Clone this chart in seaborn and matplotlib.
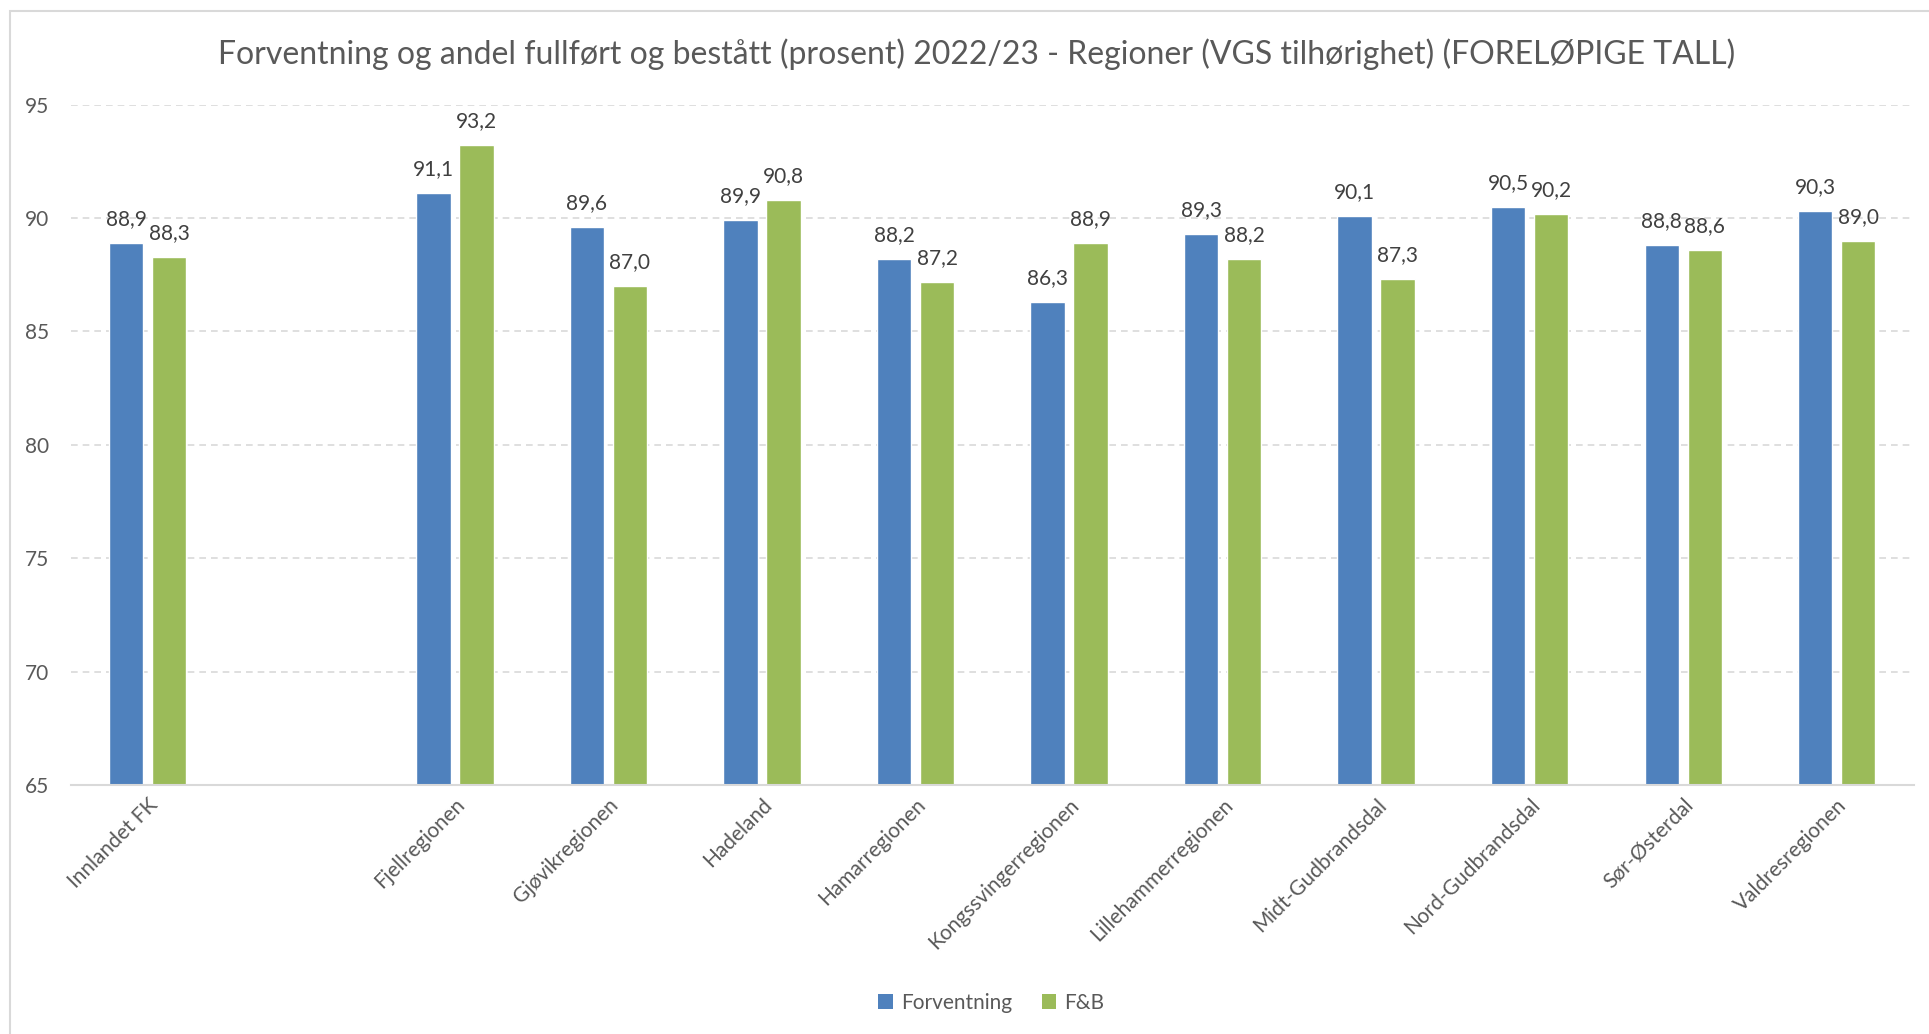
import matplotlib
matplotlib.use("Agg")
import matplotlib.pyplot as plt
import seaborn as sns
import pandas as pd
from matplotlib.patches import Rectangle, Patch

# ---- data ----
regions = ["Innlandet FK", " ", "Fjellregionen", "Gjøvikregionen", "Hadeland",
           "Hamarregionen", "Kongssvingerregionen", "Lillehammerregionen",
           "Midt-Gudbrandsdal", "Nord-Gudbrandsdal", "Sør-Østerdal", "Valdresregionen"]
forventning = [88.9, None, 91.1, 89.6, 89.9, 88.2, 86.3, 89.3, 90.1, 90.5, 88.8, 90.3]
fb = [88.3, None, 93.2, 87.0, 90.8, 87.2, 88.9, 88.2, 87.3, 90.2, 88.6, 89.0]
series = ["Forventning", "F&B"]
yticks = [65, 70, 75, 80, 85, 90, 95]
title = ("Forventning og andel fullført og bestått (prosent) 2022/23 - "
         "Regioner (VGS tilhørighet) (FORELØPIGE TALL)")

colors = ["#4F81BD", "#9BBB59"]

rows = []
for r, a, b in zip(regions, forventning, fb):
    if a is not None:
        rows.append((r, series[0], a))
    if b is not None:
        rows.append((r, series[1], b))
df = pd.DataFrame(rows, columns=["region", "serie", "value"])

sns.set_theme(style="white")
plt.rcParams["font.family"] = ["Lato", "DejaVu Sans"]

fig = plt.figure(figsize=(19.29, 10.34), dpi=100)
ax = fig.add_axes([0.0368, 0.2408, 0.9552, 0.658])

sns.barplot(data=df, x="region", y="value", hue="serie", order=regions,
            hue_order=series, palette=colors, saturation=1, width=0.56,
            gap=0.2, errorbar=None, ax=ax, legend=False)

ax.set_ylim(65, 95)
ax.set_yticks(yticks)
ax.set_xlim(-0.5, len(regions) - 0.5)
ax.set_xlabel("")
ax.set_ylabel("")

ax.yaxis.grid(True, color="#D9D9D9", linestyle=(0, (4, 3)), linewidth=1.2)
ax.set_axisbelow(True)
for s in ["top", "right", "left"]:
    ax.spines[s].set_visible(False)
ax.spines["bottom"].set_color("#D9D9D9")
ax.spines["bottom"].set_linewidth(1.5)

ax.tick_params(axis="y", length=0, labelsize=15, labelcolor="#595959", pad=16)
ax.tick_params(axis="x", length=0, labelsize=15, labelcolor="#595959", pad=7)
plt.setp(ax.get_xticklabels(), rotation=45, ha="right", rotation_mode="anchor")

for cont in ax.containers:
    ax.bar_label(cont, fmt=lambda v: f"{v:.1f}".replace(".", ","), padding=10,
                 fontsize=15, color="#404040")

fig.text(0.5065, 0.948, title, ha="center", va="center", fontsize=23,
         color="#595959")

handles = [Patch(facecolor=c, edgecolor="none") for c in colors]
fig.legend(handles, series, loc="center", bbox_to_anchor=(0.514, 0.030),
           ncol=2, frameon=False, fontsize=15, handlelength=0.7,
           handleheight=0.7, handletextpad=0.4, columnspacing=1.4,
           labelcolor="#595959")

fig.patches.append(Rectangle((10 / 1929, -0.05), 1.1, 1 - 11 / 1034 + 0.05,
                             transform=fig.transFigure, fill=False,
                             edgecolor="#D9D9D9", linewidth=1.5))

fig.savefig("out.png", dpi=100, facecolor="white")
